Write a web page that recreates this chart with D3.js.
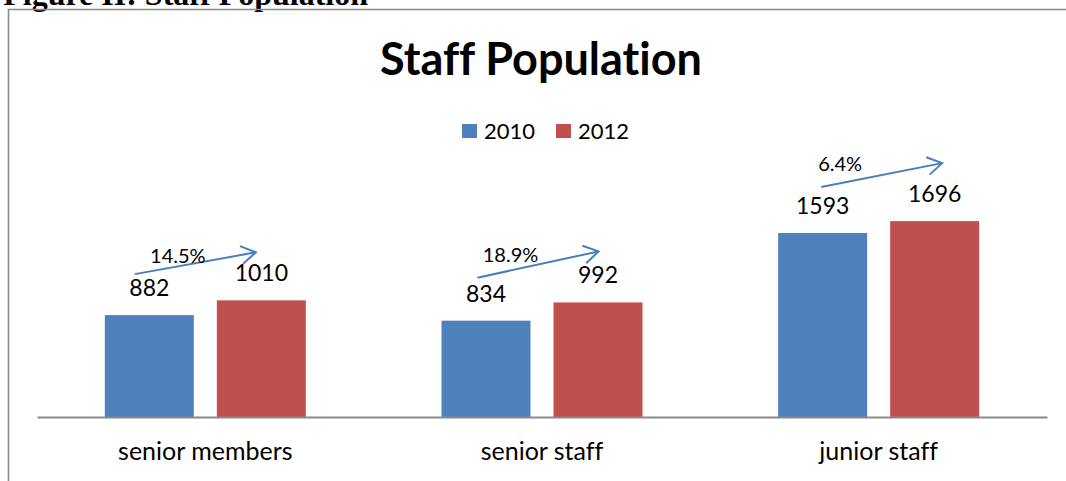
<!DOCTYPE html>
<html><head><meta charset="utf-8">
<script src="https://cdn.jsdelivr.net/npm/d3@7"></script>
<style>
html,body{margin:0;padding:0;background:#fff;overflow:hidden;}
text{font-family:Lato,"Open Sans",sans-serif;fill:#000;font-variant-ligatures:none;}
</style></head>
<body>
<svg id="c" width="1066" height="481"></svg>
<script>
// ---- data ----
const categories = ["senior members", "senior staff", "junior staff"];
const seriesNames = ["2010", "2012"];
const values2010 = [882, 834, 1593];
const values2012 = [1010, 992, 1696];
const growthLabels = ["14.5%", "18.9%", "6.4%"];
const chartTitle = "Staff Population";
const figureCaption = "Figure II: Staff Population";
const colors = ["#4F81BD", "#C0504D"];

// ---- layout ----
const W = 1066, H = 481;
const plot = {left: 37, right: 1047, top: 186, bottom: 417};
const svg = d3.select("#c");

// caption (cut off at top, as in the source page)
svg.append("text").attr("x", 368).attr("y", 5).attr("text-anchor", "end")
  .style("font-family", "'Liberation Serif','Times New Roman',serif")
  .style("font-weight", "bold").style("font-size", "32px").text(figureCaption);

// frame
svg.append("path").attr("d", `M8.5,${H}V9.5H${W}`)
  .attr("fill", "none").attr("stroke", "#8a8a8a").attr("stroke-width", 1.6);

const x0 = d3.scaleBand().domain(categories).range([plot.left, plot.right]).paddingInner(0).paddingOuter(0);
const x1 = d3.scaleBand().domain(seriesNames).paddingInner(23/112).paddingOuter(0);
x1.range([(x0.bandwidth() - 201) / 2, (x0.bandwidth() + 201) / 2]);
const y = d3.scaleLinear().domain([0, 2000]).range([plot.bottom, plot.top]);

const rows = categories.map((c, i) => ({cat: c, vals: [values2010[i], values2012[i]], growth: growthLabels[i]}));

// title
svg.append("text").attr("x", 541).attr("y", 75).attr("text-anchor", "middle")
  .style("font-weight", "bold").style("font-size", "45px").text(chartTitle);

// legend
const leg = svg.append("g");
const legX = [462, 556];
seriesNames.forEach((s, i) => {
  leg.append("rect").attr("x", legX[i]).attr("y", 124).attr("width", 15).attr("height", 14).attr("fill", colors[i]);
  leg.append("text").attr("x", legX[i] + 22).attr("y", 138.5).style("font-size", "22px").text(s);
});

// bars
const g = svg.append("g");
const groups = g.selectAll("g.cat").data(rows).join("g").attr("class", "cat")
  .attr("transform", d => `translate(${x0(d.cat)},0)`);
groups.selectAll("rect").data(d => d.vals.map((v, j) => ({s: seriesNames[j], v, j})))
  .join("rect")
  .attr("x", d => x1(d.s)).attr("width", x1.bandwidth())
  .attr("y", d => y(d.v)).attr("height", d => y(0) - y(d.v))
  .attr("fill", d => colors[d.j]);
groups.selectAll("text.val").data(d => d.vals.map((v, j) => ({s: seriesNames[j], v})))
  .join("text").attr("class", "val")
  .attr("x", d => x1(d.s) + x1.bandwidth() / 2).attr("y", d => y(d.v) - 19)
  .attr("text-anchor", "middle").style("font-size", "23px").text(d => d.v);

// axis
const xAxis = d3.axisBottom(x0).tickSize(0).tickPadding(25);
const ax = svg.append("g").attr("transform", `translate(0,${plot.bottom})`).call(xAxis);
ax.select(".domain").attr("stroke", "#8a8a8a").attr("stroke-width", 2);
ax.selectAll(".tick text").style("font-size", "25px").style("font-family", "Lato,'Open Sans',sans-serif").attr("fill", "#000");

// growth arrows (hand-placed annotations relative to the bars)
const arrowNudge = [[-6, 2, -6, 3, 10, -11], [0, 0, 0, 0, 0, -16], [7, -3, 7, -7, -14, -16]];
rows.forEach((d, i) => {
  const n = arrowNudge[i];
  const sx = x0(d.cat) + x1("2010") + 36 + n[0];
  const sy = y(d.vals[0]) - 43 + n[1];
  const ex = x0(d.cat) + x1("2012") + 45 + n[2];
  const ey = y(d.vals[1]) - 51 + n[3];
  const col = "#4A7EBB";
  svg.append("line").attr("x1", sx).attr("y1", sy).attr("x2", ex).attr("y2", ey)
    .attr("stroke", col).attr("stroke-width", 2);
  const ang = Math.atan2(ey - sy, ex - sx);
  const L = 17, a = 0.55;
  const p1 = [ex - L * Math.cos(ang - a), ey - L * Math.sin(ang - a)];
  const p2 = [ex - L * Math.cos(ang + a), ey - L * Math.sin(ang + a)];
  svg.append("path").attr("d", `M${p1}L${ex},${ey}L${p2}`).attr("fill", "none")
    .attr("stroke", col).attr("stroke-width", 2);
  svg.append("text").attr("x", sx + 33 + n[4]).attr("y", sy + n[5])
    .attr("text-anchor", "middle").style("font-size", "20px").text(d.growth);
});
</script>
</body></html>
